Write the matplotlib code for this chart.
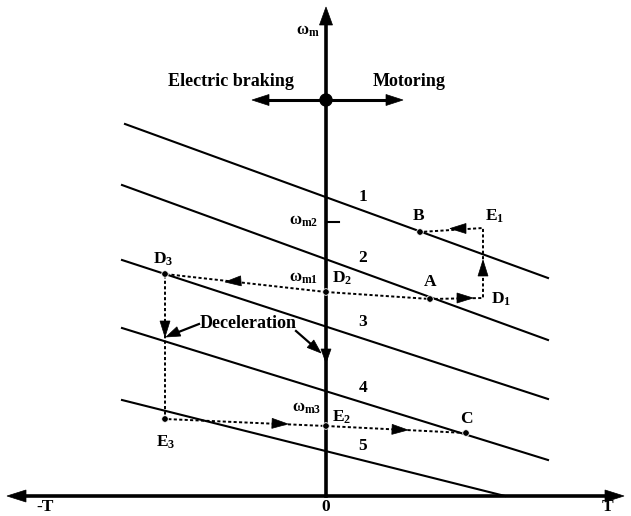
"""
Four-quadrant speed-torque sketch: Motoring / Electric braking transitions
between characteristic lines 1..5 (pixel-space diagram, 631x516).
"""

import numpy as np
import matplotlib
matplotlib.use("Agg")
import matplotlib.pyplot as plt
from matplotlib.patches import Polygon, Circle

plt.rcParams["font.family"] = ["Liberation Serif", "DejaVu Serif"]
plt.rcParams["font.weight"] = "bold"
plt.rcParams["mathtext.fontset"] = "custom"
plt.rcParams["mathtext.rm"] = "Liberation Serif:bold"
plt.rcParams["mathtext.it"] = "Liberation Serif:bold"
plt.rcParams["mathtext.bf"] = "Liberation Serif:bold"

# ── 数据（画布像素坐标，y 向下）──
W, H = 631, 516
AX_X, AX_Y = 326, 496          # 纵轴 x、横轴 y

# 特性直线 1..5 的端点
LINE_X0 = [125, 122, 122, 122, 122]
LINE_Y0 = [124, 185, 260, 328, 400]
LINE_X1 = [548, 548, 548, 548, 505]
LINE_Y1 = [278, 340, 399, 460, 496]
LINE_LABELS = ["1", "2", "3", "4", "5"]
LINE_LABEL_Y = [197, 258, 322, 388, 446]

# 工作点
PT_NAMES = ["A", "B", "C", "D1", "D2", "D3", "E1", "E2", "E3"]
PT_X = [430, 420, 466, 483, 326, 165, 483, 326, 165]
PT_Y = [299, 232, 433, 298, 292, 274, 228, 426, 419]
DOT_PTS = ["A", "B", "C", "D2", "D3", "E2", "E3"]

# 虚线路径（点名序列）
PATHS = [["D2", "A", "D1", "E1", "B"],
         ["D2", "D3", "E3", "E2", "C"]]

# 虚线箭头（尖端位置 + 方向）
ARR_X = [473, 483, 450, 225, 165, 288, 408]
ARR_Y = [298, 260, 228.5, 282, 337, 424, 430]
ARR_DX = [1, 0, -1, -1, 0, 1, 1]
ARR_DY = [0, -1, 0, 0.07, 1, 0.04, 0.04]

FS = 13      # 正文字号
FS_PT = 12.5 # 点标签字号


def pt(name):
    i = PT_NAMES.index(name)
    return PT_X[i], PT_Y[i]


def arrowhead(ax, x, y, dx, dy, length=16, width=11, color="black"):
    u = np.array([dx, dy], float)
    u /= np.linalg.norm(u)
    n = np.array([-u[1], u[0]])
    tip = np.array([x, y])
    base = tip - length * u
    poly = [tip, base + n * width / 2, base - n * width / 2]
    ax.add_patch(Polygon(poly, closed=True, fc=color, ec=color, lw=0.5, zorder=6))


fig = plt.figure(figsize=(W / 100, H / 100), dpi=100)
ax = fig.add_axes([0, 0, 1, 1])
ax.set_xlim(0, W)
ax.set_ylim(H, 0)
ax.axis("off")

# 坐标轴
ax.plot([AX_X, AX_X], [AX_Y, 20], color="black", lw=2.6, zorder=4)
ax.plot([22, 610], [AX_Y, AX_Y], color="black", lw=2.6, zorder=4)
arrowhead(ax, AX_X, 7, 0, -1, length=18, width=13)
arrowhead(ax, 7, AX_Y, -1, 0, length=19, width=12)
arrowhead(ax, 624, AX_Y, 1, 0, length=19, width=12)
arrowhead(ax, AX_X, 363, 0, 1, length=14, width=10)

# 顶部方向指示
ax.plot([266, 390], [100, 100], color="black", lw=2.2, zorder=4)
arrowhead(ax, 252, 100, -1, 0, length=17, width=11)
arrowhead(ax, 403, 100, 1, 0, length=17, width=11)
ax.add_patch(Circle((AX_X, 100), 6, fc="black", ec="black", zorder=7))
ax.text(231, 82, "Electric braking", ha="center", va="center", fontsize=FS)
ax.text(409, 82, "Motoring", ha="center", va="center", fontsize=FS)

# 特性直线
for x0, y0, x1, y1 in zip(LINE_X0, LINE_Y0, LINE_X1, LINE_Y1):
    ax.plot([x0, x1], [y0, y1], color="black", lw=1.5, zorder=3)
for lab, ly in zip(LINE_LABELS, LINE_LABEL_Y):
    ax.text(363, ly, lab, ha="center", va="center", fontsize=FS_PT)

# 虚线路径
for path in PATHS:
    xs = [pt(p)[0] for p in path]
    ys = [pt(p)[1] for p in path]
    ax.plot(xs, ys, color="black", lw=1.4, ls=(0, (1.6, 1.2)), zorder=4)
for x, y, dx, dy in zip(ARR_X, ARR_Y, ARR_DX, ARR_DY):
    arrowhead(ax, x, y, dx, dy, length=16, width=10)

for p in DOT_PTS:
    x, y = pt(p)
    ax.add_patch(Circle((x, y), 3.3, fc="black", ec="white", lw=0.6, zorder=8))

# ω_m2 刻度
ax.plot([AX_X, 339], [222, 222], color="black", lw=1.5, zorder=4)

# 点标签
ax.text(419, 216, "B", ha="center", va="center", fontsize=FS_PT)
ax.text(430, 282, "A", ha="center", va="center", fontsize=FS_PT)
ax.text(466, 419, "C", ha="center", va="center", fontsize=FS_PT)
ax.text(485, 216, r"$\mathrm{E_1}$", ha="left", va="center", fontsize=FS_PT)
ax.text(491, 299, r"$\mathrm{D_1}$", ha="left", va="center", fontsize=FS_PT)
ax.text(332, 278, r"$\mathrm{D_2}$", ha="left", va="center", fontsize=FS_PT)
ax.text(332, 417, r"$\mathrm{E_2}$", ha="left", va="center", fontsize=FS_PT)
ax.text(163, 259, r"$\mathrm{D_3}$", ha="center", va="center", fontsize=FS_PT)
ax.text(166, 442, r"$\mathrm{E_3}$", ha="center", va="center", fontsize=FS_PT)

ax.text(320, 31, r"$\mathrm{\omega_m}$", ha="right", va="center", fontsize=12)
ax.text(318, 221, r"$\mathrm{\omega_{m2}}$", ha="right", va="center", fontsize=12)
ax.text(318, 278, r"$\mathrm{\omega_{m1}}$", ha="right", va="center", fontsize=12)
ax.text(321, 408, r"$\mathrm{\omega_{m3}}$", ha="right", va="center", fontsize=12)

# Deceleration 注释
ax.text(248, 323, "Deceleration", ha="center", va="center", fontsize=FS)
ax.plot([199, 176], [324, 333], color="black", lw=1.6, zorder=5)
arrowhead(ax, 166, 337, -30, 13, length=14, width=10)
ax.plot([296, 312], [331, 345], color="black", lw=1.6, zorder=5)
arrowhead(ax, 321, 353, 25, 22, length=14, width=10)

# 横轴标签
ax.text(45, 507, "-T", ha="center", va="center", fontsize=FS_PT)
ax.text(AX_X, 507, "0", ha="center", va="center", fontsize=FS_PT)
ax.text(607, 507, "T", ha="center", va="center", fontsize=FS_PT)

fig.savefig("out.png", dpi=100)
